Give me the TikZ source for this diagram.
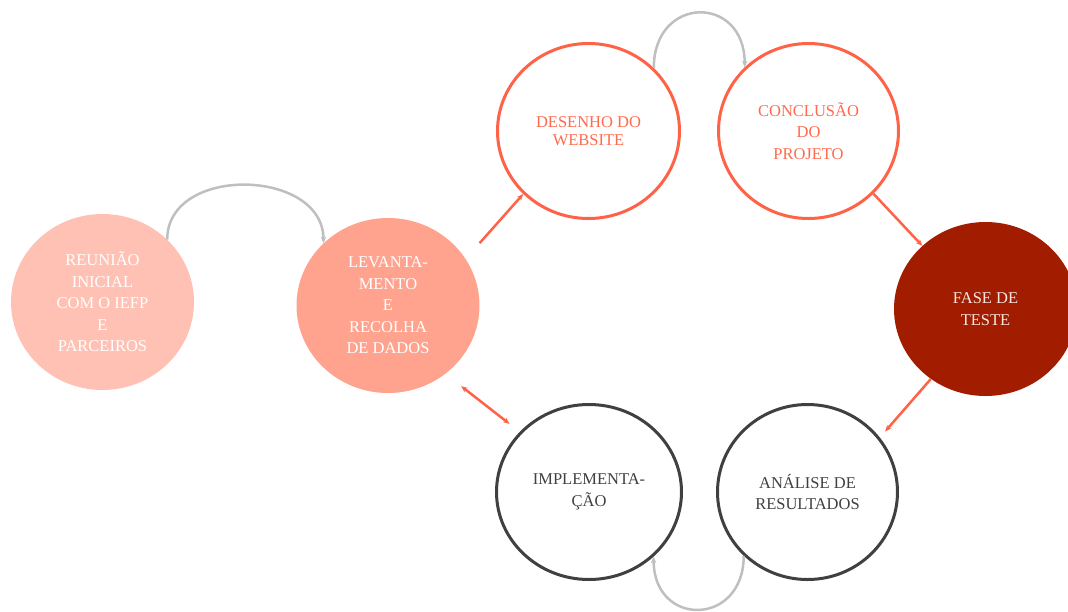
\documentclass[tikz,border=0pt]{standalone}
\usepackage{fontspec}
\setmainfont{Liberation Serif}
\usetikzlibrary{shapes.geometric,arrows.meta}
\definecolor{softpink}{HTML}{FFC1B4}
\definecolor{salmon}{HTML}{FFA38F}
\definecolor{tomatoline}{HTML}{FF6347}
\definecolor{tomatotext}{HTML}{FF6A4D}
\definecolor{brick}{HTML}{A21C00}
\definecolor{charcoal}{HTML}{404040}
\definecolor{arcgray}{HTML}{BFBFBF}
\definecolor{palewhite}{HTML}{F5E6E2}
\tikzset{
  stage/.style={ellipse, inner sep=0pt, align=center,
    font=\fontsize{16.5}{21.5}\selectfont},
  filledstage/.style={stage, draw=none, text=white},
  orangestage/.style={stage, draw=tomatoline, line width=3pt, fill=white, text=tomatotext},
  graystage/.style={stage, draw=charcoal, line width=3pt, fill=white, text=charcoal},
  loop/.style={draw=arcgray, line width=2.5pt, -{Stealth[length=6.5pt,width=5.5pt]}},
  flow/.style={draw=tomatoline, line width=2.5pt, -{Stealth[length=6.5pt,width=5.5pt]}},
  twoway/.style={draw=tomatoline, line width=2.5pt, {Stealth[length=6.5pt,width=5.5pt]}-{Stealth[length=6.5pt,width=5.5pt]}}
}
\begin{document}
\begin{tikzpicture}[x=1pt, y=-1pt]
  \useasboundingbox (0,0) rectangle (1068,611);
  \clip (0,0) rectangle (1068,611);

  % stages
  \node[filledstage, fill=softpink, minimum width=183pt, minimum height=176pt]
    (r) at (102.5,302) {REUNIÃO\\INICIAL\\COM O IEFP\\E\\PARCEIROS};
  \node[filledstage, fill=salmon, minimum width=183pt, minimum height=175pt]
    (l) at (388,305.5) {LEVANTA-\\MENTO\\E\\RECOLHA\\DE DADOS};
  \node[orangestage, minimum width=182pt, minimum height=175pt,
        font=\fontsize{16.5}{18.5}\selectfont]
    (d) at (588.5,131) {DESENHO DO\\WEBSITE};
  \node[orangestage, minimum width=180pt, minimum height=175pt]
    (c) at (808.5,131) {CONCLUSÃO\\DO\\PROJETO};
  \node[filledstage, fill=brick, text=palewhite, minimum width=183pt, minimum height=174pt]
    (f) at (985.5,309) {FASE DE\\TESTE};
  \node[graystage, minimum width=185pt, minimum height=175pt]
    (i) at (589,492) {IMPLEMENTA-\\ÇÃO};
  \node[graystage, minimum width=180pt, minimum height=175pt]
    (a) at (807.5,492) {ANÁLISE DE\\RESULTADOS};

  % looping arcs
  \draw[loop] (r.44) .. controls +(0,-75) and +(0,-75) .. (l.136);
  \draw[loop] (d.44) .. controls +(0,-73) and +(0,-73) .. (c.135);
  \draw[loop] (a.225) .. controls +(0,71) and +(0,71) .. (i.-45);

  % flow arrows
  \draw[flow, shorten <=21pt] (l.31) -- (d.224);
  \draw[flow] (c.-44) -- (f.135);
  \draw[flow, shorten >=8pt] (f.232) -- (a.37);
  \draw[twoway, shorten <=20pt, shorten >=13pt] (l.-50) -- (i.139);
\end{tikzpicture}
\end{document}
